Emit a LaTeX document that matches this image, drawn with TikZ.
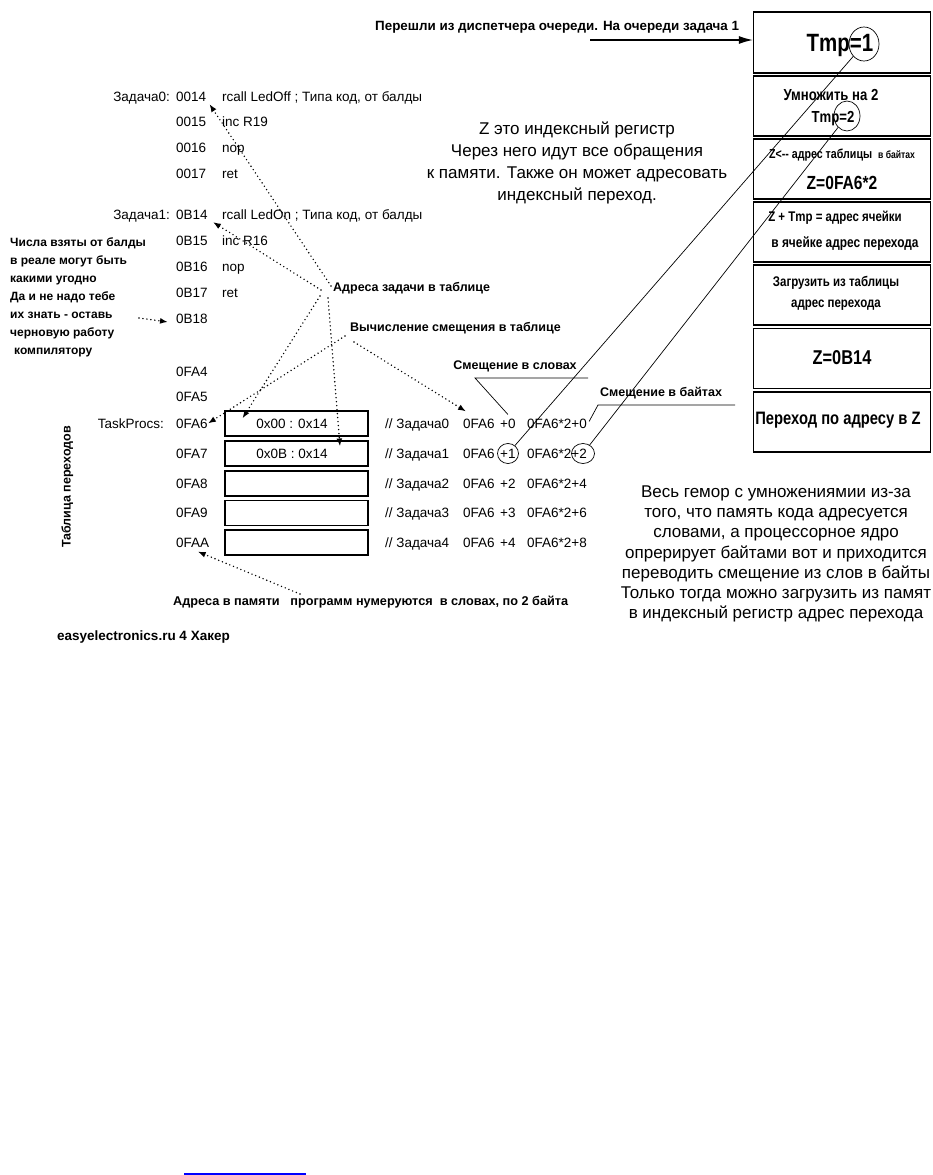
\documentclass[tikz,border=0pt]{standalone}
\usepackage{fontspec}
\setmainfont{Liberation Sans}
\newfontfamily\nar[FakeStretch=0.82]{Liberation Sans}
\usetikzlibrary{arrows.meta,shapes.geometric,calc}
\begin{document}
\begin{tikzpicture}[x=1pt,y=-1pt,
  code/.style={inner sep=0pt, anchor=west, text height=9.7pt, text depth=0pt, font=\fontsize{13.5}{16}\selectfont},
  lbl/.style={inner sep=0pt, text height=9pt, text depth=0pt, font=\bfseries\fontsize{12.5}{15}\selectfont},
  rbox/.style={draw, line width=1.2pt, minimum width=177pt, minimum height=60pt, inner sep=0pt},
  cell/.style={draw, line width=1.1pt, minimum width=143pt, minimum height=25pt, inner sep=0pt},
  rt/.style={inner sep=0pt, font=\nar\bfseries\fontsize{#1}{#1}\selectfont},
  ell/.style={draw, ellipse, line width=0.7pt, inner sep=0pt},
  dotarr/.style={line width=1.6pt, dash pattern=on 0pt off 4pt, line cap=round, -{Latex[length=8pt,width=6pt]}},
  lead/.style={line width=0.7pt},
  para/.style={inner sep=0pt, align=center, font=\fontsize{17}{#1}\selectfont},
]
\useasboundingbox (0,0) rectangle (933,1175);

% ---------- right column boxes ----------
\node[rbox, minimum height=61pt] (b1) at (842,42.5) {};
\node[rbox] (b2) at (842,106) {};
\node[rbox] (b3) at (842,169) {};
\node[rbox] (b4) at (842,232) {};
\node[rbox] (b5) at (842,295) {};
\node[rbox] (b6) at (842,358.5) {};
\node[rbox] (b7) at (842,422) {};

\node[rt=25] (t1) at (840,45) {Tmp=1};
\node[rt=16] (t2a) at (831,95) {Умножить на 2};
\node[rt=16] (t2b) at (833,119) {Tmp=2};
\node[rt=13] (t3a) at (842,155) {Z<-{}- адрес таблицы\ \ {\fontsize{10.5}{11}\selectfont в байтах}};
\node[rt=19] (t3b) at (842,183) {Z=0FA6*2};
\node[rt=14] (t4a) at (835,218) {Z + Tmp = адрес ячейки};
\node[rt=14.5] (t4b) at (845,244) {в ячейке адрес перехода};
\node[rt=14] (t5a) at (836,283) {Загрузить из таблицы};
\node[rt=14] (t5b) at (836,305) {адрес перехода};
\node[rt=20] (t6) at (842,358) {Z=0B14};
\node[rt=18] (t7) at (838,420) {Переход по адресу в Z};

\node[ell, minimum width=30pt, minimum height=34pt] (ct1) at (864,44) {};
\node[ell, minimum width=26pt, minimum height=30pt] (ct2) at (847,116) {};

% ---------- top label and arrow ----------
\node[inner sep=0pt, anchor=west, font=\bfseries\fontsize{13.4}{15}\selectfont] (top) at (375,27) {Перешли из диспетчера очереди. На очереди задача 1};
\coordinate (arS) at (590,40);
\draw[line width=1.3pt, -{Latex[length=14pt,width=8pt]}] (arS) -- (arS -| b1.west);

% ---------- paragraphs ----------
\node[para=22] (pz) at (577,163) {Z это индексный регистр\\Через него идут все обращения\\к памяти. Также он может адресовать\\индексный переход.};
\node[para=20.3] (pw) at (776,554) {Весь гемор с умножениямии из-за\\того, что память кода адресуется\\словами, а процессорное ядро\\опрерирует байтами вот и приходится\\переводить смещение из слов в байты\\Только тогда можно загрузить из памят\\в индексный регистр адрес перехода};

% ---------- code listing ----------
\node[code, anchor=east] (zd0) at (170,97) {Задача0:};
\node[code, anchor=east] (zd1) at (170,215) {Задача1:};
\node[code, anchor=east] (tp) at (164,423.5) {TaskProcs:};
\foreach \n/\y in {0014/97,0015/122,0016/148,0017/174,0B14/215,0B15/241,0B16/267,0B17/293,0B18/319,0FA4/372,0FA5/397,0FA6/423.5,0FA7/453.5,0FA8/483.5,0FA9/513,0FAA/542.5}
  \node[code] (a\n) at (176,\y) {\n};
\node[code] (i0) at (222,97) {rcall LedOff ; Типа код, от балды};
\node[code] (i1) at (222,122) {inc R19};
\node[code] (i2) at (222,148) {nop};
\node[code] (i3) at (222,174) {ret};
\node[code] (i4) at (222,215) {rcall LedOn ; Типа код, от балды};
\node[code] (i5) at (222,241) {inc R16};
\node[code] (i6) at (222,267) {nop};
\node[code] (i7) at (222,293) {ret};

% ---------- table ----------
\foreach \i/\y in {0/423.5,1/453.5,2/483.5,3/513,4/542.5}
  \node[cell] (c\i) at (296.5,\y) {};
\node[code, anchor=center] (c0t) at (292,423.5) {0x00 : 0x14};
\node[code, anchor=center] (c1t) at (292,453.5) {0x0B : 0x14};
\foreach \i/\y/\b in {0/423.5/0,1/453.5/2,2/483.5/4,3/513/6,4/542.5/8} {
  \node[code] (cm\i) at (385,\y) {// Задача\i};
  \node[code] (w\i) at (463,\y) {0FA6};
  \node[code] (p\i) at (500,\y) {+\i};
  \node[code] (q\i) at (527,\y) {0FA6*2+\b};
}
\node[ell, minimum width=21pt, minimum height=20pt] (cp1) at (508,453.5) {};
\node[ell, minimum width=23pt, minimum height=20pt] (cq1) at (583,453.5) {};

% ---------- long solid lines ----------
\draw[lead] (ct1) -- (cp1);
\draw[lead] (ct2) -- (cq1);

% ---------- labels ----------
\node[inner sep=0pt, anchor=north west, align=left, font=\bfseries\fontsize{12}{18}\selectfont] (note) at (10,237) {Числа взяты от балды\\в реале могут быть\\какими угодно\\Да и не надо тебе\\их знать - оставь\\черновую работу\\\hspace*{4pt}компилятору};
\node[lbl, rotate=90] (tbl) at (66,487) {Таблица переходов};
\node[lbl, anchor=west] (la) at (333,287) {Адреса задачи в таблице};
\node[lbl, anchor=west] (lv) at (350,327) {Вычисление смещения в таблице};
\node[lbl] (ls1) at (515,365) {Смещение в словах};
\node[lbl] (ls2) at (661,392) {Смещение в байтах};
\node[lbl, anchor=west, font=\bfseries\fontsize{12.7}{15}\selectfont] (lm) at (173,601) {Адреса в памяти \ \ программ нумеруются \ в словах, по 2 байта};
\node[inner sep=0pt, anchor=west, font=\bfseries\fontsize{13.5}{15}\selectfont] (src) at (57,637) {easyelectronics.ru 4 Хакер};

% ---------- leaders ----------
\coordinate (s1a) at (588,378); \coordinate (s1b) at (475,378);
\draw[lead] (s1a) -- (s1b) -- ($(p0.north)+(0,-4)$);
\coordinate (s2a) at (735,405); \coordinate (s2b) at (598,405);
\draw[lead] (s2a) -- (s2b) -- ($(q0.east)+(2,-2)$);

% ---------- dotted arrows ----------
\coordinate (hA1) at (331,286);
\coordinate (hA2) at (321,290);
\coordinate (hA3) at (320,296);
\coordinate (hA4) at (328,298);
\coordinate (hV1) at (345,336);
\coordinate (hV2) at (354,342);
\coordinate (nA) at (139,318);
\coordinate (mA) at (300,594);
\draw[dotarr] (hA1) -- ($(a0014.south east)+(3,2)$);
\draw[dotarr] (hA2) -- ($(a0B14.south east)+(5,2)$);
\draw[dotarr] (hA3) -- ($(c0.north west)+(18,8)$);
\draw[dotarr] (hA4) -- ($(c1.north)+(43.5,6)$);
\draw[dotarr] (hV1) -- (a0FA6.east);
\draw[dotarr] (hV2) -- ($(w0.north west)+(3,-7)$);
\draw[dotarr] (nA) -- ($(a0B18.west)+(-8,3)$);
\draw[dotarr] (mA) -- ($(a0FAA.south)+(5,4)$);

% ---------- blue underline at the bottom ----------
\draw[blue, line width=2pt] (184,1174) -- (306,1174);
\end{tikzpicture}
\end{document}
